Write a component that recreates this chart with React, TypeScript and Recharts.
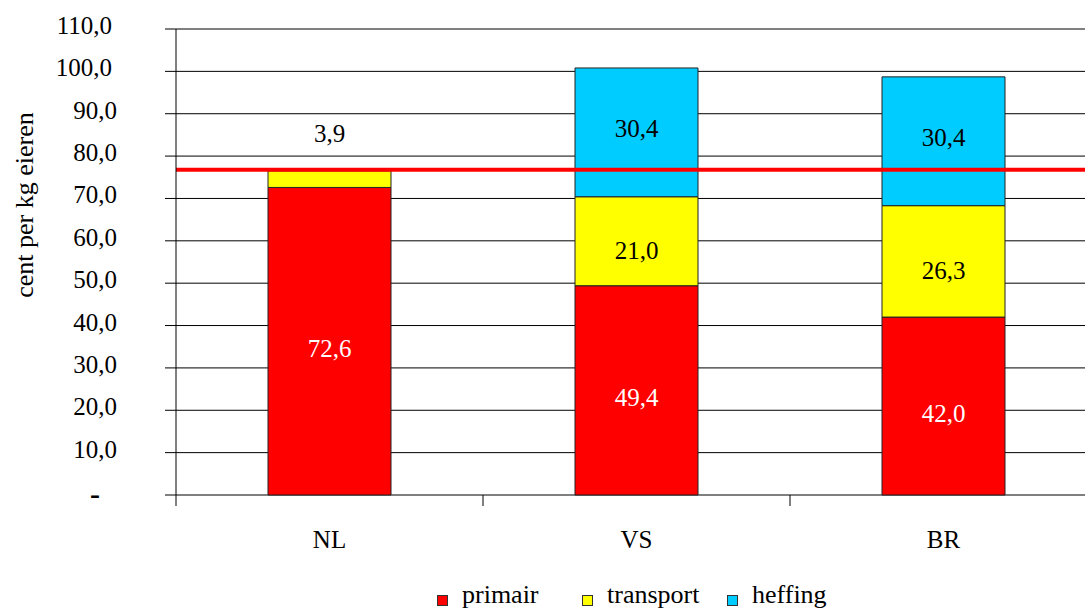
import {
  BarChart,
  Bar,
  XAxis,
  YAxis,
  CartesianGrid,
  ReferenceLine,
  LabelList,
  Label,
} from "recharts";

const countries = ["NL", "VS", "BR"];
const primair = [72.6, 49.4, 42.0];
const transport = [3.9, 21.0, 26.3];
const heffing = [0, 30.4, 30.4];
const yTicks = [0, 10, 20, 30, 40, 50, 60, 70, 80, 90, 100, 110];
const nlLevel = 76.8;
const seriesKeys = ["primair", "transport", "heffing"];
const seriesColors = ["#FF0000", "#FFFF00", "#00CCFF"];
const labelColors = ["#FFFFFF", "#000000", "#000000"];
const yTitle = "cent per kg eieren";

const FONT = "'Liberation Serif', 'Times New Roman', Times, serif";
const txt = { fontFamily: FONT };
// excel nudges the segment labels a little
const labelShift = [7, 9, -4];

const data = countries.map((land, i) => ({
  land,
  primair: primair[i],
  transport: transport[i],
  heffing: heffing[i],
}));

const fmt = (v: number) => v.toFixed(1).replace(".", ",");

function YTick({ x, y, payload }: any) {
  const v = Number(payload.value);
  if (v === 0) {
    return (
      <text x={x - 68} y={y + 9} textAnchor="middle" fontSize={30} fontWeight="bold" style={txt} fill="#000">
        -
      </text>
    );
  }
  return (
    <text x={v >= 100 ? x - 51 : x - 46} y={y + 5} textAnchor="end" fontSize={25} style={txt} fill="#000">
      {fmt(v)}
    </text>
  );
}

function XTick({ x, y, payload, index }: any) {
  const half = 153.5;
  return (
    <g>
      <line x1={x - half} x2={x - half} y1={y} y2={y + 11} stroke="#000" />
      {index === countries.length - 1 && (
        <line x1={x + half} x2={x + half} y1={y} y2={y + 11} stroke="#000" />
      )}
      <text x={x} y={y + 53} textAnchor="middle" fontSize={25} style={txt} fill="#000">
        {payload.value}
      </text>
    </g>
  );
}

const makeLabel = (color: string, shift: number) => (p: any) => {
  const v = Number(p.value);
  if (!v) return null;
  const top = Math.min(Number(p.y), Number(p.y) + Number(p.height));
  const h = Math.abs(Number(p.height));
  const cx = Number(p.x) + Number(p.width) / 2;
  // small segment: label sits above the bar
  const cy = h < 30 ? top - 37 : top + h / 2 + shift;
  return (
    <text x={cx} y={cy + 8.5} textAnchor="middle" fontSize={25} style={txt} fill={h < 30 ? "#000" : color}>
      {fmt(v)}
    </text>
  );
};

const renderYTitle = () => (
  <text x={33} y={205} transform="rotate(-90, 33, 205)" textAnchor="middle" fontSize={26} style={txt} fill="#000">
    {yTitle}
  </text>
);

export default function App() {
  return (
    <div
      style={{
        position: "absolute",
        left: 0,
        top: 0,
        width: 1085,
        height: 613,
        overflow: "hidden",
        background: "#fff",
        fontFamily: FONT,
      }}
    >
      <BarChart
        width={1100}
        height={613}
        data={data}
        margin={{ top: 29, right: 3, bottom: 0, left: 0 }}
        style={txt}
      >
        <CartesianGrid vertical={false} stroke="#000" />
        <XAxis
          dataKey="land"
          height={118}
          axisLine={false}
          tickLine={false}
          tickSize={0}
          tickMargin={0}
          interval={0}
          tick={<XTick />}
        />
        <YAxis
          type="number"
          domain={[0, 110]}
          ticks={yTicks}
          interval={0}
          width={176}
          tickSize={11}
          tickMargin={2}
          axisLine={{ stroke: "#000" }}
          tickLine={{ stroke: "#000" }}
          tick={<YTick />}
        >
          <Label content={renderYTitle} />
        </YAxis>
        {seriesKeys.map((key, i) => (
          <Bar
            key={key}
            dataKey={key}
            stackId="a"
            fill={seriesColors[i]}
            stroke="#222"
            strokeWidth={1}
            barSize={123}
            isAnimationActive={false}
          >
            <LabelList dataKey={key} content={makeLabel(labelColors[i], labelShift[i])} />
          </Bar>
        ))}
        <ReferenceLine y={nlLevel} stroke="#FF0000" strokeWidth={4} />
      </BarChart>
      <svg
        width={1085}
        height={613}
        style={{ position: "absolute", left: 0, top: 0, pointerEvents: "none" }}
      >
        {seriesKeys.map((key, i) => (
          <g key={key}>
            <rect x={437.5 + i * 145} y={595.5} width={10} height={10} fill={seriesColors[i]} stroke="#333" />
            <text x={462 + i * 145} y={603} fontSize={26} style={txt} fill="#000">
              {key}
            </text>
          </g>
        ))}
      </svg>
    </div>
  );
}
